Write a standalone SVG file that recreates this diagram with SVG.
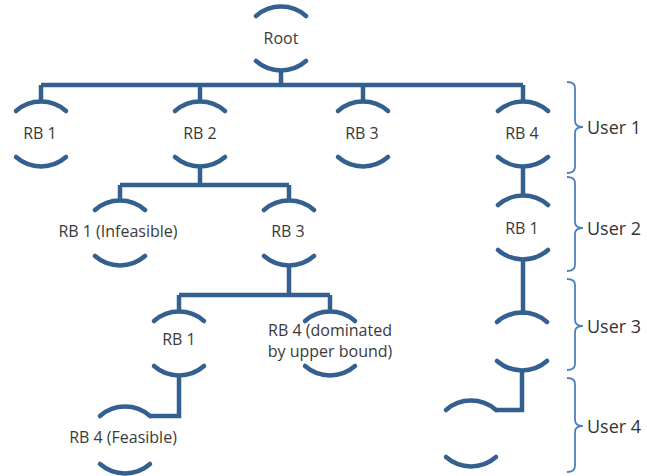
<svg xmlns="http://www.w3.org/2000/svg" width="647" height="476" viewBox="0 0 647 476">
<defs>
<style>
.arc{fill:none;stroke:#34608F;stroke-width:4.5;stroke-linecap:round}
.con{fill:none;stroke:#34608F;stroke-width:4.5;stroke-linejoin:miter}
.lbl{font-family:"Open Sans","Liberation Sans",sans-serif;font-size:16px;fill:#3a3a3a;text-anchor:middle}
.brace{fill:none;stroke:#4F81BD;stroke-width:1.8}
.usr{font-family:"Open Sans","Liberation Sans",sans-serif;font-size:18px;fill:#333}
</style>
</defs>
<rect width="647" height="476" fill="#fff"/>

<g id="connectors">
<path class="con" d="M281,71 V85 M41,85 H523 M41,85 V103 M200,85 V103 M363,85 V103 M523,85 V103"/>
<path class="con" d="M200,166 V185 M120,185 H289 M120,185 V201 M289,185 V201"/>
<path class="con" d="M523,166 V196"/>
<path class="con" d="M289,265 V295 M179,295 H330 M179,295 V312 M330,295 V312"/>
<path class="con" d="M523,259 V315"/>
<path class="con" d="M179,375 V416 H150"/>
<path class="con" d="M522,372 V410 H496"/>
</g>

<g id="root">
<path class="arc" d="M256,16 A38,38 0 0 1 306,16 M256,61 A38,38 0 0 0 306,61"/>
<text class="lbl" x="281" y="44">Root</text>
</g>
<g id="u1-rb1">
<path class="arc" d="M16,111 A38,38 0 0 1 66,111 M16,157 A38,38 0 0 0 66,157"/>
<text class="lbl" x="40" y="139">RB 1</text>
</g>
<g id="u1-rb2">
<path class="arc" d="M175,111 A38,38 0 0 1 225,111 M175,157 A38,38 0 0 0 225,157"/>
<text class="lbl" x="200" y="139">RB 2</text>
</g>
<g id="u1-rb3">
<path class="arc" d="M338,111 A38,38 0 0 1 388,111 M338,157 A38,38 0 0 0 388,157"/>
<text class="lbl" x="362" y="139">RB 3</text>
</g>
<g id="u1-rb4">
<path class="arc" d="M498,111 A38,38 0 0 1 548,111 M498,157 A38,38 0 0 0 548,157"/>
<text class="lbl" x="522" y="139">RB 4</text>
</g>
<g id="u2-rb1-infeasible">
<path class="arc" d="M95,210 A38,38 0 0 1 145,210 M95,256 A38,38 0 0 0 145,256"/>
<text class="lbl" x="118" y="237">RB 1 (Infeasible)</text>
</g>
<g id="u2-rb3">
<path class="arc" d="M264,210 A38,38 0 0 1 314,210 M264,256 A38,38 0 0 0 314,256"/>
<text class="lbl" x="288" y="237">RB 3</text>
</g>
<g id="u2-rb1-right">
<path class="arc" d="M498,205 A38,38 0 0 1 548,205 M498,250 A38,38 0 0 0 548,250"/>
<text class="lbl" x="522" y="234">RB 1</text>
</g>
<g id="u3-rb1">
<path class="arc" d="M154,321 A38,38 0 0 1 204,321 M154,366 A38,38 0 0 0 204,366"/>
<text class="lbl" x="179" y="345">RB 1</text>
</g>
<g id="u3-rb4-dominated">
<path class="arc" d="M305,321 A38,38 0 0 1 355,321 M305,366 A38,38 0 0 0 355,366"/>
<text class="lbl" x="330" y="336">RB 4 (dominated</text>
<text class="lbl" x="330" y="357">by upper bound)</text>
</g>
<g id="u3-right">
<path class="arc" d="M497,322 A38,38 0 0 1 547,322 M497,361 A38,38 0 0 0 547,361"/>
</g>
<g id="u4-rb4-feasible">
<path class="arc" d="M100,416 A38,38 0 0 1 150,416 M100,464 A38,38 0 0 0 150,464"/>
<text class="lbl" x="123" y="443">RB 4 (Feasible)</text>
</g>
<g id="u4-right">
<path class="arc" d="M446,410 A38,38 0 0 1 496,410 M446,457 A38,38 0 0 0 496,457"/>
</g>

<g id="user1">
<path class="brace" d="M567,82 Q575,82 575,88 V121 Q575,127 583,127 Q575,127 575,133 V167 Q575,173 567,173"/>
<text class="usr" x="587" y="134">User 1</text>
</g>
<g id="user2">
<path class="brace" d="M567,177 Q575,177 575,183 V222 Q575,228 583,228 Q575,228 575,234 V265 Q575,271 567,271"/>
<text class="usr" x="587" y="235">User 2</text>
</g>
<g id="user3">
<path class="brace" d="M567,279 Q575,279 575,285 V320 Q575,326 583,326 Q575,326 575,332 V364 Q575,370 567,370"/>
<text class="usr" x="587" y="333">User 3</text>
</g>
<g id="user4">
<path class="brace" d="M567,378 Q575,378 575,384 V420 Q575,426 583,426 Q575,426 575,432 V466 Q575,472 567,472"/>
<text class="usr" x="587" y="433">User 4</text>
</g>
</svg>
